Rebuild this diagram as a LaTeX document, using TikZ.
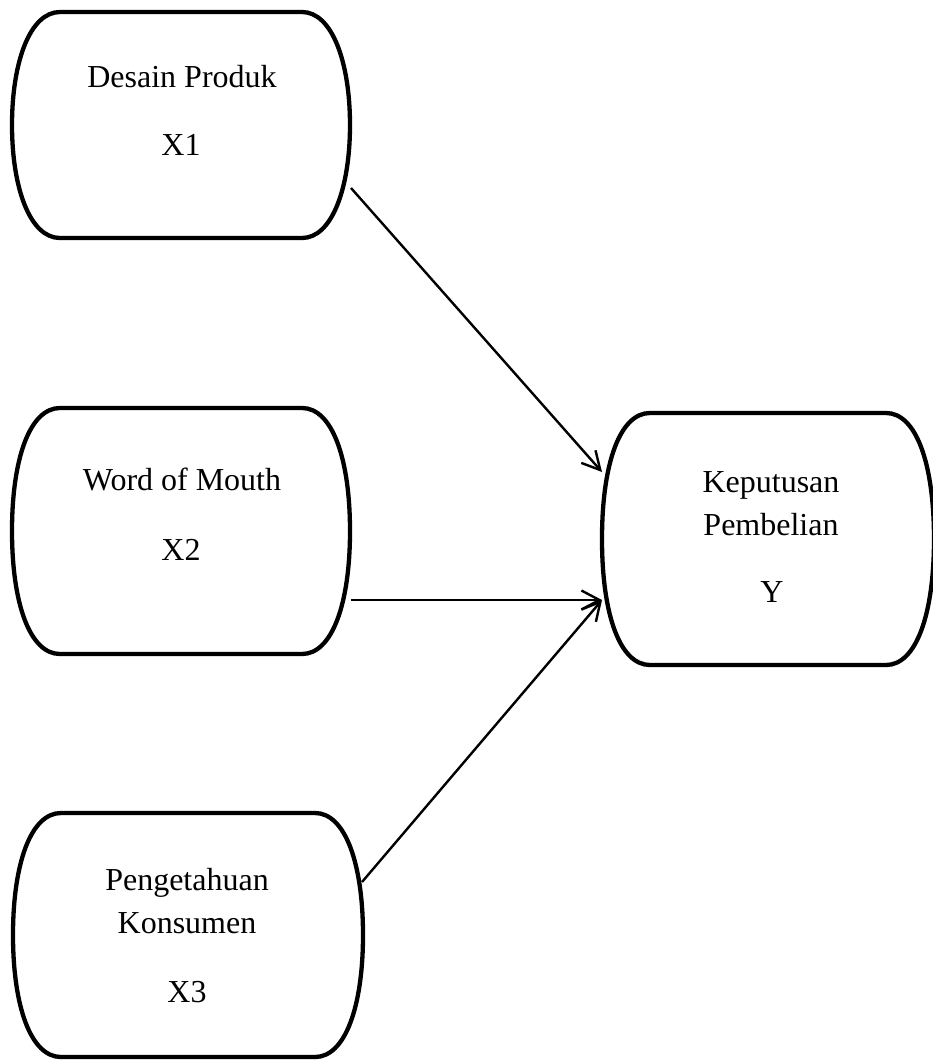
\documentclass[tikz,border=0pt]{standalone}
\usepackage{fontspec}
\setmainfont{Liberation Serif}
\usetikzlibrary{calc,arrows.meta}
\tikzset{
  box/.style={rectangle, draw=none, inner sep=0pt, outer sep=0pt},
  outline/.style={line width=4.3pt, black},
  lbl/.style={anchor=base, inner sep=0pt, font=\fontsize{32}{40}\selectfont},
  conn/.style={line width=2.4pt, -{Straight Barb[length=18pt,width=19pt]}},
}
\newcommand\capsuleoutline[1]{%
  \draw[outline] ($(#1.north west)+(48pt,0)$) -- ($(#1.north east)+(-48pt,0)$)
    .. controls ($(#1.north east)+(-18pt,0)$) and ($(#1.north east)+(0,-50pt)$) .. (#1.east)
    .. controls ($(#1.south east)+(0,50pt)$) and ($(#1.south east)+(-18pt,0)$) .. ($(#1.south east)+(-48pt,0)$)
    -- ($(#1.south west)+(48pt,0)$)
    .. controls ($(#1.south west)+(18pt,0)$) and ($(#1.south west)+(0,50pt)$) .. (#1.west)
    .. controls ($(#1.north west)+(0,-50pt)$) and ($(#1.north west)+(18pt,0)$) .. cycle;}
\begin{document}
\begin{tikzpicture}[x=1pt,y=-1pt]
\useasboundingbox (0,0) rectangle (933,1061);
% boxes
\node[box, minimum width=338pt, minimum height=226pt] (b1) at (181,125) {};
\node[box, minimum width=338pt, minimum height=246pt] (b2) at (181,531) {};
\node[box, minimum width=350pt, minimum height=244pt] (b3) at (188,935) {};
\node[box, minimum width=332pt, minimum height=252pt] (by) at (768,539) {};
\capsuleoutline{b1}
\capsuleoutline{b2}
\capsuleoutline{b3}
\capsuleoutline{by}
% texts
\node[lbl] (t1a) at (182,87) {Desain Produk};
\node[lbl] (t1b) at (181,155) {X1};
\node[lbl] (t2a) at (182,490) {Word of Mouth};
\node[lbl] (t2b) at (181,560) {X2};
\node[lbl] (t3a) at (187,890) {Pengetahuan};
\node[lbl] (t3b) at (187,933) {Konsumen};
\node[lbl] (t3c) at (187,1002) {X3};
\node[lbl] (tya) at (771,492) {Keputusan};
\node[lbl] (tyb) at (771,535) {Pembelian};
\node[lbl] (tyc) at (772,602) {Y};
% connectors
\draw[conn] ($(b1.east)+(1pt,-63pt)$) -- ($(by.west)+(0,67pt)$);
\draw[conn] ($(b2.east)+(1pt,-69pt)$) -- ($(by.west)+(0,-61pt)$);
\draw[conn] ($(b3.east)+(-1pt,53pt)$) -- ($(by.west)+(0,-61pt)$);
\end{tikzpicture}
\end{document}
